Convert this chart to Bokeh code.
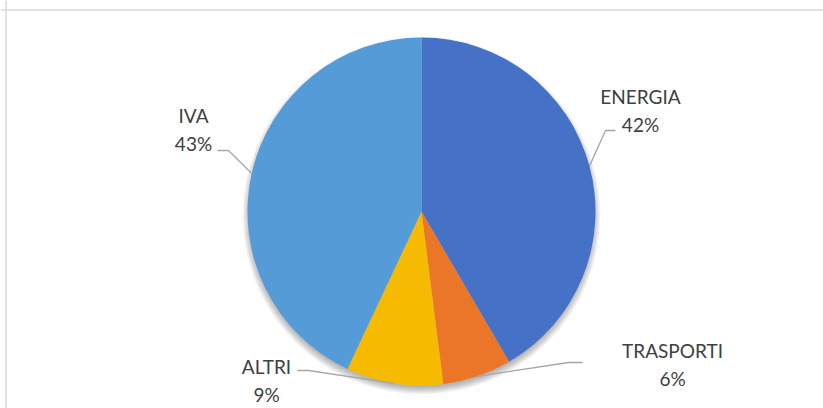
import math
from bokeh.plotting import figure
from bokeh.models import Range1d, Span, ColumnDataSource
from bokeh.core.properties import value
from bokeh.embed import file_html
from bokeh.resources import INLINE

# ---- data ----
categories = ["ENERGIA", "TRASPORTI", "ALTRI", "IVA"]
shares = [41.6, 6.4, 9.0, 43.0]
colors = ["#4571C6", "#EB7627", "#F6BB00", "#559BD7"]

# ---- layout (page pixel coordinates, y downward) ----
CX, CY, R = 421, 211, 174
label_pos = [(640, 96), (672, 350), (266, 366), (193, 115)]
leader_elbow = [(605, 130), (568, 362), (308, 370), (228, 150)]
leader_end = [(615, 130), (582, 362), (297, 370), (217, 150)]
LINE_GAP = 27.5

W, H = 823, 408
p = figure(width=W, height=H, output_backend="svg", toolbar_location=None,
           x_range=Range1d(0, W), y_range=Range1d(-H, 0),
           x_axis_type=None, y_axis_type=None, min_border=0)
p.grid.visible = False
p.outline_line_color = None
p.background_fill_color = "white"

p.add_layout(Span(location=-9.5, dimension="width", line_color="#D9D9D9", line_width=1.5))
p.add_layout(Span(location=5.5, dimension="height", line_color="#D9D9D9", line_width=1.5))

# soft shadow
for i in range(8):
    p.circle(x=[CX], y=[-(CY + 4)], radius=R + 5 - i, radius_units="data",
             fill_color="#000000", fill_alpha=0.04, line_color=None)

total = sum(shares)
starts, ends, mids = [], [], []
cum = 0.0
for s in shares:
    a0 = math.pi / 2 - 2 * math.pi * cum / total
    cum += s
    a1 = math.pi / 2 - 2 * math.pi * cum / total
    starts.append(a0)
    ends.append(a1)
    mids.append((a0 + a1) / 2)

src = ColumnDataSource(dict(cat=categories, share=shares, start=starts, end=ends,
                            color=colors, x=[CX] * 4, y=[-CY] * 4))
p.wedge(x="x", y="y", radius=R, radius_units="data", start_angle="start",
        end_angle="end", direction="clock", fill_color="color",
        line_color=None, source=src)

# leader lines
for m, el, en in zip(mids, leader_elbow, leader_end):
    ax = CX + R * math.cos(m)
    ay = CY - R * math.sin(m)
    p.line(x=[ax, el[0], en[0]], y=[-ay, -el[1], -en[1]], line_color="#A6A6A6", line_width=1.3)

pct = [f"{round(100 * s / total)}%" for s in shares]
p.text(x=[lp[0] for lp in label_pos], y=[-lp[1] for lp in label_pos], text=categories,
       text_align="center", text_baseline="middle", text_font=value("Lato"),
       text_font_size="19px", text_color="#404040")
p.text(x=[lp[0] for lp in label_pos], y=[-(lp[1] + LINE_GAP) for lp in label_pos], text=pct,
       text_align="center", text_baseline="middle", text_font=value("Lato"),
       text_font_size="19px", text_color="#404040")

open("out.html", "w").write(file_html(p, INLINE))
